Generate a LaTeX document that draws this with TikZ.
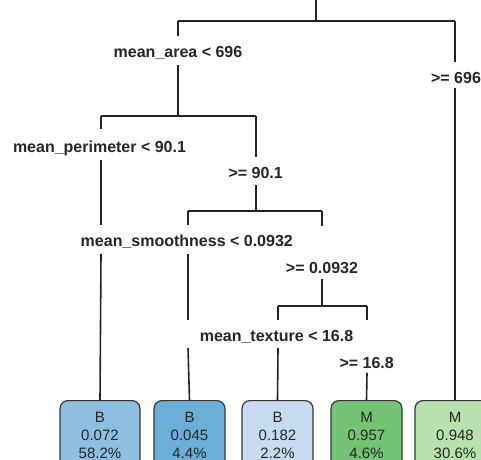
\documentclass[tikz,border=0pt]{standalone}
\usepackage{fontspec}
\setmainfont{Liberation Sans}
\definecolor{lineC}{RGB}{35,35,35}
\definecolor{boxline}{RGB}{55,55,55}
\definecolor{leafA}{RGB}{141,192,224}
\definecolor{leafB}{RGB}{107,174,214}
\definecolor{leafC}{RGB}{198,219,239}
\definecolor{leafD}{RGB}{116,196,118}
\definecolor{leafE}{RGB}{183,226,176}
\tikzset{
  edge/.style={draw=lineC, line width=1.6bp},
  splitlbl/.style={font=\fontsize{16bp}{18bp}\selectfont\bfseries, text=black!85, inner sep=0pt, anchor=base},
  leafbox/.style={draw=boxline, line width=1.2bp, rounded corners=8bp, anchor=north,
    inner xsep=0pt, inner ysep=11.7bp, align=center,
    font=\fontsize{15bp}{18bp}\selectfont, text=black!85}
}
\begin{document}
\begin{tikzpicture}[x=1bp, y=-1bp]
\clip (0,0) rectangle (481,460);
\useasboundingbox (0,0) rectangle (481,460);

% junction coordinates
\coordinate (top) at (316,0);
\coordinate (r) at (316,21);
\coordinate (rl) at (178,21);
\coordinate (rr) at (455,21);
\coordinate (a1) at (178,36);
\coordinate (a2) at (178,65);
\coordinate (al) at (101,116);
\coordinate (am) at (178,116);
\coordinate (ar) at (256,116);
\coordinate (b1) at (455,62);
\coordinate (b2) at (455,88);
\coordinate (c1) at (101,129);
\coordinate (c2) at (101,160);
\coordinate (c3) at (101,225);
\coordinate (c4) at (101,254);
\coordinate (d1) at (256,157);
\coordinate (d2) at (256,185);
\coordinate (dl) at (188,211);
\coordinate (dm) at (256,211);
\coordinate (dr) at (322,211);
\coordinate (e1) at (188,225);
\coordinate (e2) at (188,254);
\coordinate (e3) at (188,320);
\coordinate (e4) at (188,348);
\coordinate (f1) at (322,226);
\coordinate (f2) at (322,279);
\coordinate (fl) at (278,306);
\coordinate (fm) at (322,306);
\coordinate (fr) at (367,306);
\coordinate (g1) at (278,320);
\coordinate (g2) at (278,348);
\coordinate (h1) at (367,320);
\coordinate (h2) at (367,373);

% split labels
\node[splitlbl] (la) at (178,57.5) {mean\_area < 696};
\node[splitlbl] (lb) at (456,84) {>= 696};
\node[splitlbl] (lc) at (99.5,152.5) {mean\_perimeter < 90.1};
\node[splitlbl] (ld) at (255.7,179) {>= 90.1};
\node[splitlbl] (le) at (186.8,246) {mean\_smoothness < 0.0932};
\node[splitlbl] (lf) at (322,273.3) {>= 0.0932};
\node[splitlbl] (lg) at (276.5,341.5) {mean\_texture < 16.8};
\node[splitlbl] (lh) at (366.7,368.3) {>= 16.8};

% leaves
\node[leafbox, fill=leafA, minimum width=80bp] (n1) at (100,400) {B\\0.072\\58.2\%\\~\\~};
\node[leafbox, fill=leafB, minimum width=71bp] (n2) at (189.5,400) {B\\0.045\\4.4\%\\~\\~};
\node[leafbox, fill=leafC, minimum width=71bp] (n3) at (277.5,400) {B\\0.182\\2.2\%\\~\\~};
\node[leafbox, fill=leafD, minimum width=71bp] (n4) at (366.5,400) {M\\0.957\\4.6\%\\~\\~};
\node[leafbox, fill=leafE, minimum width=80bp] (n5) at (455,400) {M\\0.948\\30.6\%\\~\\~};

% edges
\draw[edge] (top) -- (r);
\draw[edge] (rl) -- (rr);
\draw[edge] (rl) -- (a1);
\draw[edge] (a2) -- (am);
\draw[edge] (rr) -- (b1);
\draw[edge] (b2) -- (n5.north);
\draw[edge] (al) -- (ar);
\draw[edge] (al) -- (c1);
\draw[edge] (c2) -- (c3);
\draw[edge] (c4) -- (n1.north);
\draw[edge] (ar) -- (d1);
\draw[edge] (d2) -- (dm);
\draw[edge] (dl) -- (dr);
\draw[edge] (dl) -- (e1);
\draw[edge] (e2) -- (e3);
\draw[edge] (e4) -- (n2.north);
\draw[edge] (dr) -- (f1);
\draw[edge] (f2) -- (fm);
\draw[edge] (fl) -- (fr);
\draw[edge] (fl) -- (g1);
\draw[edge] (g2) -- (n3.north);
\draw[edge] (fr) -- (h1);
\draw[edge] (h2) -- (n4.north);
\end{tikzpicture}
\end{document}
